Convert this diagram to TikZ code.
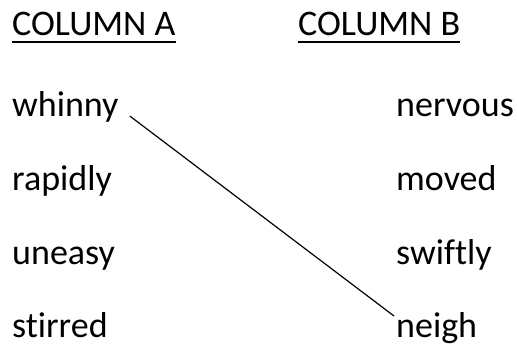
\documentclass[tikz,border=0pt]{standalone}
\usepackage{fontspec}
\setmainfont{Carlito}[Ligatures=CommonOff]

\begin{document}
\begin{tikzpicture}[x=1pt,y=1pt,font=\fontsize{36}{40}\selectfont,
  word/.style={inner sep=0pt,anchor=base west}]
\useasboundingbox (0,0) rectangle (517,354);
% headings
\node[word] (colA) at (12,318) {COLUMN A};
\node[word] (colB) at (298,318) {COLUMN B};
\draw[line width=1.6pt] ([yshift=-6]colA.base west) -- ([yshift=-6]colA.base east);
\draw[line width=1.6pt] ([yshift=-6]colB.base west) -- ([yshift=-6]colB.base east);
% column A
\node[word] (whinny) at (12,237) {whinny};
\node[word] (rapidly) at (12,164) {rapidly};
\node[word] (uneasy) at (12,90) {uneasy};
\node[word] (stirred) at (12,17) {stirred};
% column B
\node[word] (nervous) at (396,237) {nervous};
\node[word] (moved) at (396,164) {moved};
\node[word] (swiftly) at (396,90) {swiftly};
\node[word] (neigh) at (396,17) {neigh};
% match
\draw[line width=1.2pt] ([shift={(11,1)}]whinny.base east) -- ([shift={(-2,21)}]neigh.base west);
\end{tikzpicture}
\end{document}
